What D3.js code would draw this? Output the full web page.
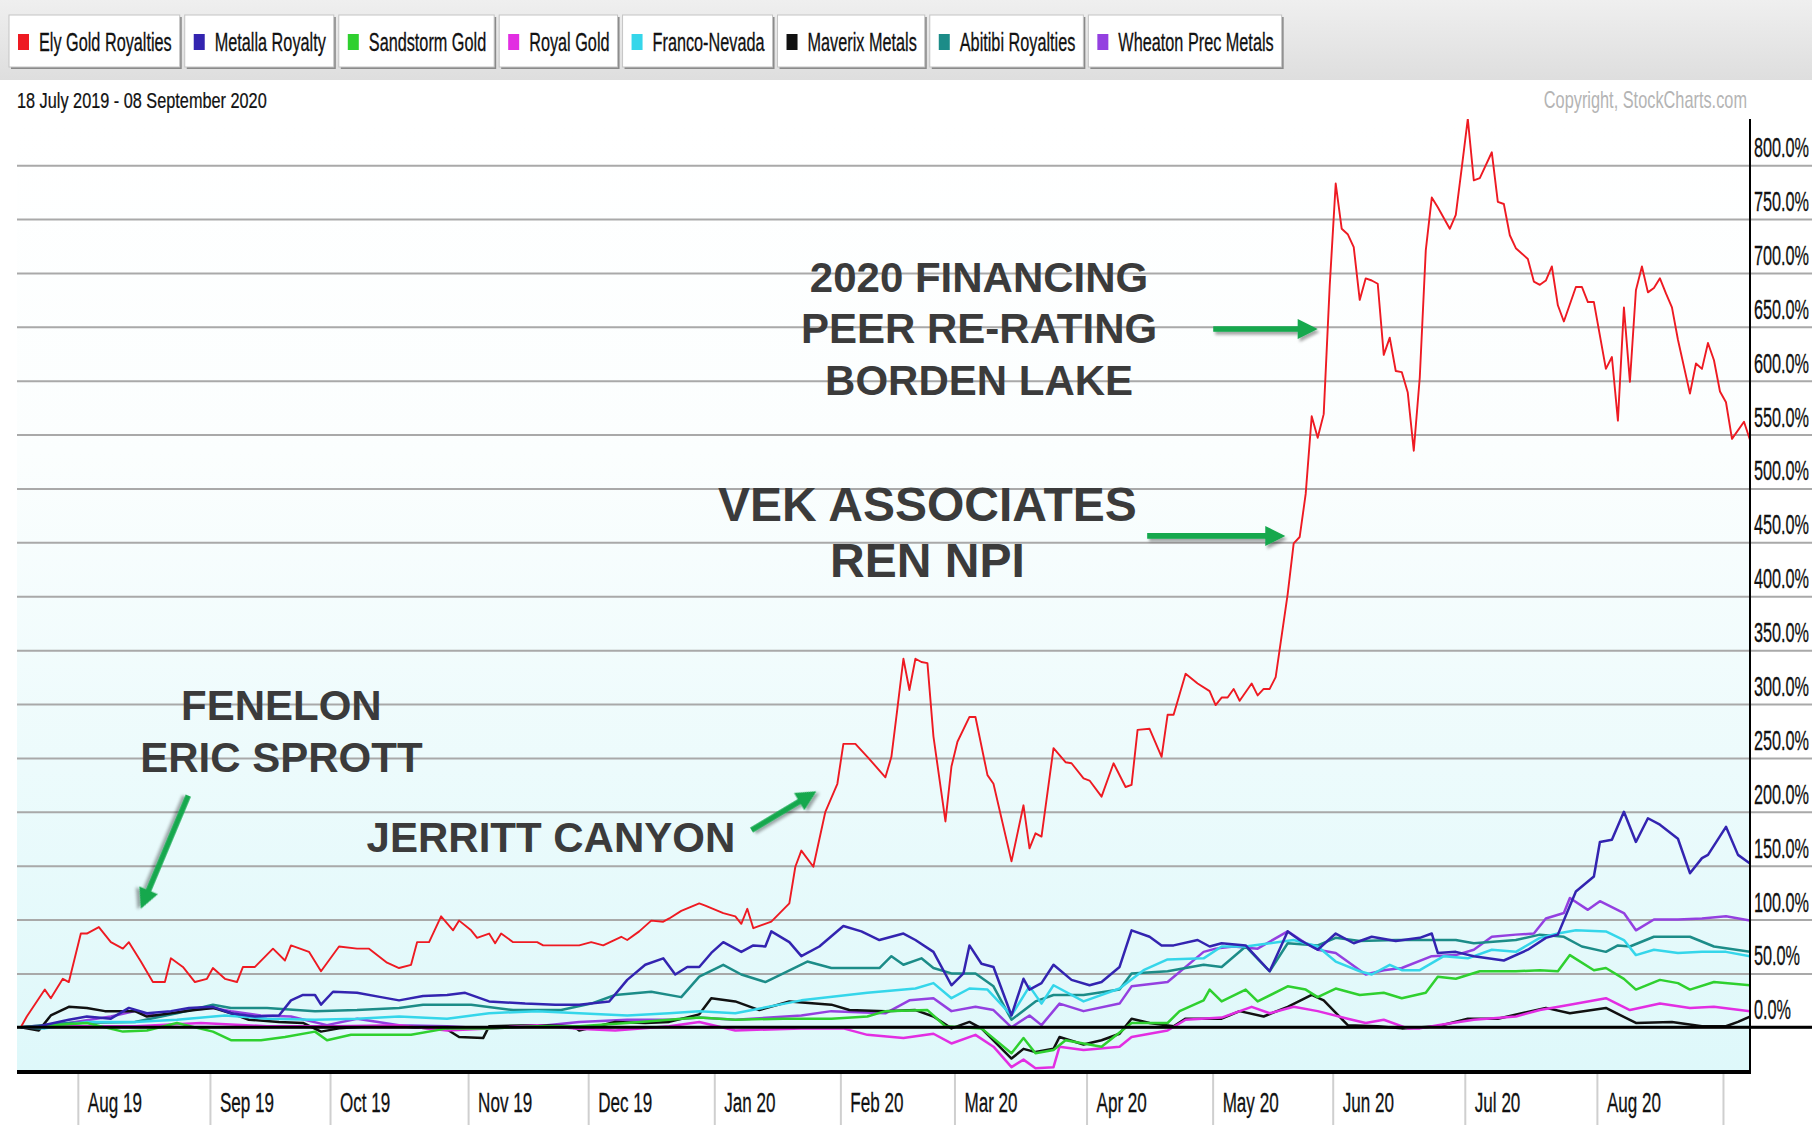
<!DOCTYPE html>
<html>
<head>
<meta charset="utf-8">
<script src="https://cdnjs.cloudflare.com/ajax/libs/d3/7.8.5/d3.min.js"></script>
<style>
    body { margin: 0; background: #fff; }
    svg { display: block; font-family: "Liberation Sans", Arial, sans-serif; }
</style>
</head>
<body>
<div id="chart"></div>
<script>
// trading calendar: one session per market day, 18 Jul 2019 .. 08 Sep 2020
var startDate = "2019-07-18",
    endDate = "2020-09-08";
var holidays = ["2019-09-02", "2019-11-28", "2019-12-25", "2020-01-01", "2020-01-20",
    "2020-02-17", "2020-04-10", "2020-05-25", "2020-07-03", "2020-09-07"];

var seriesNames = ["Ely Gold Royalties", "Metalla Royalty", "Sandstorm Gold", "Royal Gold",
    "Franco-Nevada", "Maverix Metals", "Abitibi Royalties", "Wheaton Prec Metals"];
var seriesColors = ["#ee1a22", "#3324b0", "#2fd02f", "#e22ee2", "#35d6ea", "#111111", "#1c8c88", "#9440e0"];

// [session, % change since 18 Jul 2019]
var elyGold = [[0,0],[1,10],[4,35],[5,27],[7,45],[8,42],[10,87],[11,87],[13,93],[15,79],[17,73],[18,79],[20,61],
    [22,42],[24,42],[25,64],[27,56],[29,42],[31,45],[32,55],[34,45],[36,42],[37,56],[39,56],[42,73],[44,62],[45,76],
    [48,70],[50,52],[53,75],[56,73],[58,73],[61,60],[63,55],[65,58],[66,79],[68,79],[70,103],[72,90],[73,99],[75,90],
    [76,83],[78,87],[79,78],[80,87],[82,79],[86,79],[87,76],[93,76],[95,79],[97,76],[100,84],[101,81],[103,89],[105,99],
    [107,98],[108,101],[110,108],[113,115],[114,113],[117,106],[119,103],[120,96],[121,110],[122,92],[125,98],[128,115],
    [129,149],[130,164],[132,149],[134,200],[136,226],[137,263],[139,263],[141,251],[144,232],[145,251],[146,296],
    [147,342],[148,313],[149,342],[150,339],[151,338],[152,270],[154,191],[155,242],[156,265],[158,288],[159,288],
    [161,234],[162,226],[165,154],[167,206],[168,166],[169,180],[170,177],[172,259],[174,246],[175,245],[177,231],
    [178,229],[180,214],[182,245],[184,223],[185,225],[186,276],[188,277],[190,251],[191,290],[192,290],[194,328],
    [196,319],[198,312],[199,299],[200,306],[201,306],[202,314],[203,303],[205,319],[206,308],[207,314],[208,314],
    [209,325],[211,402],[212,449],[213,455],[214,495],[215,567],[216,547],[217,569],[218,688],[219,783],[220,741],
    [221,736],[222,724],[223,675],[224,695],[225,693],[226,690],[227,624],[228,640],[229,609],[230,608],[231,589],
    [232,535],[233,603],[234,721],[235,770],[236,761],[238,741],[239,754],[240,798],[241,843],[242,786],[243,788],
    [245,812],[246,766],[247,764],[248,735],[249,723],[251,713],[252,692],[253,689],[254,693],[255,706],[256,670],
    [257,655],[259,687],[260,687],[261,673],[262,673],[264,611],[265,622],[266,563],[267,668],[268,599],[269,684],
    [270,706],[271,682],[272,686],[273,695],[274,681],[275,668],[276,638],[278,588],[279,616],[280,611],[281,635],
    [282,619],[283,590],[284,580],[285,546],[287,562],[288,545]];
var metalla = [[0,0],[3,1],[8,7],[11,10],[15,8],[18,18],[21,13],[25,15],[28,18],[32,19],[35,13],[39,10],[43,11],
    [45,25],[47,30],[49,30],[50,21],[52,33],[56,32],[60,28],[63,25],[67,29],[71,30],[74,32],[78,24],[84,22],[89,21],
    [93,21],[98,24],[101,44],[104,58],[107,64],[109,49],[111,56],[113,56],[115,69],[117,79],[120,70],[122,76],[124,75],
    [125,89],[128,79],[130,66],[133,75],[137,94],[140,89],[143,81],[147,87],[149,81],[152,70],[155,39],[157,50],
    [158,76],[160,59],[162,56],[165,11],[167,45],[168,35],[170,41],[172,58],[175,44],[178,39],[180,42],[183,56],
    [185,90],[188,84],[190,76],[192,76],[196,81],[198,75],[200,78],[204,76],[208,52],[211,89],[213,81],[216,72],
    [219,87],[222,78],[225,84],[229,80],[233,83],[235,87],[236,69],[239,70],[242,66],[247,62],[251,72],[254,83],
    [256,86],[259,126],[262,140],[263,172],[265,174],[267,200],[269,172],[271,194],[273,188],[276,175],[278,143],
    [280,157],[281,160],[284,186],[286,160],[288,152]];
var sandstorm = [[0,0],[11,4],[17,-4],[21,-3],[26,4],[32,-4],[35,-12],[40,-12],[44,-9],[49,-4],[51,-12],[55,-7],
    [65,-7],[71,-1],[78,-1],[86,1],[93,1],[101,4],[108,7],[113,9],[119,7],[127,8],[135,8],[141,10],[144,15],[151,16],
    [154,1],[160,-1],[165,-24],[167,-10],[169,-24],[172,-21],[174,-12],[180,-18],[185,4],[191,4],[193,15],[197,25],
    [198,35],[200,24],[204,35],[206,24],[211,38],[214,35],[216,28],[219,36],[223,30],[227,32],[230,27],[234,32],
    [236,47],[239,45],[243,52],[249,52],[253,53],[256,52],[258,67],[262,53],[264,55],[267,45],[269,35],[273,44],
    [276,41],[278,35],[282,42],[288,39]];
var royalGold = [[0,0],[8,1],[19,1],[30,4],[41,1],[52,1],[63,2],[71,-3],[78,-1],[86,2],[92,-1],[99,-3],[108,1],
    [113,5],[119,-3],[130,-1],[137,-1],[141,-7],[147,-10],[152,-6],[155,-15],[159,-7],[162,-18],[165,-37],[167,-30],
    [169,-38],[172,-37],[173,-18],[177,-21],[183,-18],[185,-9],[191,-3],[194,7],[200,9],[205,19],[208,13],[212,19],
    [216,15],[221,8],[224,4],[227,7],[231,-1],[233,-1],[236,2],[242,7],[249,10],[253,16],[258,21],[264,27],[268,16],
    [273,22],[278,18],[282,19],[288,15]];
var francoNevada = [[0,0],[4,-1],[11,5],[19,5],[26,7],[34,11],[41,8],[49,7],[56,8],[63,10],[71,8],[78,13],[86,15],
    [93,13],[101,11],[108,13],[113,15],[119,13],[130,25],[141,32],[149,36],[152,41],[155,27],[158,36],[161,35],
    [165,11],[168,38],[170,22],[172,39],[177,24],[183,36],[187,53],[191,63],[197,64],[200,75],[204,75],[208,78],
    [212,81],[216,75],[219,61],[223,52],[225,49],[228,58],[230,53],[233,53],[237,66],[241,64],[245,72],[249,70],
    [253,83],[256,87],[259,90],[264,89],[267,81],[269,67],[272,72],[276,69],[280,70],[284,70],[288,66]];
var maverix = [[0,0],[3,-3],[5,11],[8,19],[11,18],[14,15],[19,15],[21,10],[25,13],[29,16],[32,18],[35,13],[38,7],
    [43,5],[47,4],[50,-4],[53,-1],[58,1],[63,1],[71,-2],[73,-9],[77,-10],[78,1],[86,2],[92,1],[93,-3],[99,5],[104,4],
    [108,5],[113,12],[115,27],[119,24],[123,16],[128,24],[135,21],[138,16],[144,15],[149,16],[152,10],[155,-1],
    [158,5],[160,-1],[165,-29],[167,-20],[169,-23],[172,-20],[173,-9],[177,-16],[180,-12],[183,-6],[185,8],[188,4],
    [192,1],[194,8],[197,8],[200,8],[203,15],[207,10],[211,19],[215,30],[217,25],[221,2],[226,1],[230,-1],[236,1],
    [241,8],[246,8],[250,13],[254,18],[258,13],[264,18],[269,4],[275,5],[280,1],[284,1],[286,5],[288,10]];
var abitibi = [[0,0],[8,4],[19,5],[26,13],[32,21],[35,18],[41,18],[49,15],[56,16],[63,18],[67,21],[75,21],[82,16],
    [90,16],[95,22],[99,30],[105,33],[110,28],[113,47],[117,58],[120,49],[124,42],[127,50],[131,61],[135,55],[143,55],
    [145,66],[147,58],[150,64],[152,55],[155,50],[159,50],[162,38],[165,7],[169,24],[172,30],[177,30],[183,35],
    [185,50],[191,52],[197,58],[200,56],[204,75],[208,52],[211,78],[216,76],[219,83],[223,80],[229,81],[235,81],
    [239,81],[242,78],[249,81],[253,86],[257,84],[260,75],[264,70],[266,76],[268,75],[272,84],[278,84],[282,75],
    [288,70]];
var wheaton = [[0,0],[8,4],[15,10],[19,15],[23,10],[28,16],[32,18],[35,15],[40,11],[45,10],[51,2],[56,8],[63,2],
    [71,1],[78,-1],[86,1],[93,5],[101,7],[108,7],[113,9],[119,7],[130,11],[135,15],[144,13],[148,25],[152,27],
    [155,15],[159,19],[162,16],[165,0],[168,11],[170,2],[173,22],[177,15],[183,22],[185,38],[191,42],[197,70],
    [199,73],[202,75],[206,73],[211,89],[214,78],[216,72],[219,69],[224,49],[227,53],[230,55],[235,66],[239,67],
    [242,72],[245,84],[249,86],[252,87],[254,101],[257,106],[258,120],[261,109],[263,117],[267,106],[269,90],
    [272,100],[276,100],[280,101],[284,103],[288,99]];

var yTicks = [0, 50, 100, 150, 200, 250, 300, 350, 400, 450, 500, 550, 600, 650, 700, 750, 800];

// hand-drawn notes, placed in [session, %] space
var noteTexts = [
    {text: "2020 FINANCING", s: 159.6, v: 696, size: 42},
    {text: "PEER RE-RATING", s: 159.6, v: 648.6, size: 42},
    {text: "BORDEN LAKE", s: 159.6, v: 601, size: 42},
    {text: "VEK ASSOCIATES", s: 151, v: 486, size: 48},
    {text: "REN NPI", s: 151, v: 434, size: 48},
    {text: "FENELON", s: 43.4, v: 299, size: 42},
    {text: "ERIC SPROTT", s: 43.4, v: 251, size: 42},
    {text: "JERRITT CANYON", s: 88.3, v: 177, size: 42}
];
var noteArrows = [
    [[198.6, 648], [216, 648]],
    [[187.6, 456], [210.6, 456]],
    [[27.9, 215], [20, 110]],
    [[121.7, 183], [132.5, 219]]
];

var W = 1812, H = 1125;
var plot = {left: 17, right: 1750, top: 119, bottom: 1072};

var parseDate = d3.timeParse("%Y-%m-%d"),
    fmtDate = d3.timeFormat("%Y-%m-%d"),
    fmtMonth = d3.timeFormat("%b %y");

var sessions = [];
for (var d = parseDate(startDate); d <= parseDate(endDate); d = d3.timeDay.offset(d, 1)) {
    var wd = d.getDay();
    if (wd === 0 || wd === 6) continue;
    if (holidays.indexOf(fmtDate(d)) >= 0) continue;
    sessions.push(d);
}

// first session of every month
var monthStarts = [];
sessions.forEach(function(d, i) {
    if (i > 0 && d.getMonth() !== sessions[i - 1].getMonth()) monthStarts.push(i);
});

var x = d3.scaleLinear()
    .domain([0, sessions.length - 1])
    .range([20.8, plot.right]);

var y = d3.scaleLinear()
    .domain([0, 800])
    .range([1027.3, 165.2]);

var svg = d3.select("#chart").append("svg")
    .attr("width", W)
    .attr("height", H);

var defs = svg.append("defs");

var grad = defs.append("linearGradient")
    .attr("id", "bg")
    .attr("x1", 0).attr("y1", 0).attr("x2", 0).attr("y2", 1);
grad.append("stop").attr("offset", "0%").attr("stop-color", "#ffffff");
grad.append("stop").attr("offset", "35%").attr("stop-color", "#fbfefe");
grad.append("stop").attr("offset", "100%").attr("stop-color", "#def8fa");

var legGrad = defs.append("linearGradient")
    .attr("id", "legbg")
    .attr("x1", 0).attr("y1", 0).attr("x2", 0).attr("y2", 1);
legGrad.append("stop").attr("offset", "0%").attr("stop-color", "#efefef");
legGrad.append("stop").attr("offset", "100%").attr("stop-color", "#dedede");

defs.append("clipPath").attr("id", "clip")
    .append("rect")
    .attr("x", plot.left).attr("y", plot.top)
    .attr("width", plot.right - plot.left).attr("height", plot.bottom - plot.top);

var shadow = defs.append("filter").attr("id", "shadow")
    .attr("x", "-20%").attr("y", "-50%").attr("width", "140%").attr("height", "200%");
shadow.append("feDropShadow")
    .attr("dx", 2).attr("dy", 3).attr("stdDeviation", 1.5)
    .attr("flood-color", "#000").attr("flood-opacity", 0.35);

// narrow text, the original chart's labels look squeezed sideways
function narrowText(g, tx, ty, str, size, sx, anchor) {
    return g.append("text")
        .attr("transform", "translate(" + tx + "," + ty + ") scale(" + sx + ",1)")
        .attr("font-size", size)
        .attr("text-anchor", anchor || "start")
        .text(str);
}

// legend strip
svg.append("rect")
    .attr("x", 0).attr("y", 0)
    .attr("width", W).attr("height", 80)
    .attr("fill", "url(#legbg)");

var legend = svg.append("g").attr("class", "legend");
var bx = 9;
seriesNames.forEach(function(name, i) {
    var b = legend.append("g");
    var t = narrowText(b, bx + 30, 51, name, 25, 0.65)
        .attr("fill", "#111")
        .attr("stroke", "#111")
        .attr("stroke-width", 0.3);
    var tw = t.node().getComputedTextLength() * 0.65;
    var bw = tw + 38;
    b.insert("rect", "text")
        .attr("x", bx + 2).attr("y", 17)
        .attr("width", bw).attr("height", 52)
        .attr("fill", "#8a8a8a");
    b.insert("rect", "text")
        .attr("x", bx).attr("y", 15)
        .attr("width", bw).attr("height", 52)
        .attr("fill", "#fff")
        .attr("stroke", "#c4c4c4");
    b.append("rect")
        .attr("x", bx + 9).attr("y", 34)
        .attr("width", 11).attr("height", 16)
        .attr("fill", seriesColors[i]);
    bx += bw + 5;
});

narrowText(svg, 17, 108, "18 July 2019 - 08 September 2020", 22, 0.74)
    .attr("fill", "#111")
    .attr("stroke", "#111")
    .attr("stroke-width", 0.25);
narrowText(svg, plot.right - 3, 108, "Copyright, StockCharts.com", 23, 0.71, "end")
    .attr("fill", "#b4b4b4");

// plot background
svg.append("rect")
    .attr("x", plot.left).attr("y", plot.top)
    .attr("width", plot.right - plot.left).attr("height", plot.bottom - plot.top)
    .attr("fill", "url(#bg)");

// horizontal grid, runs under the labels to the right edge
svg.append("g")
    .attr("class", "grid")
    .attr("transform", "translate(" + W + ",0)")
    .call(d3.axisLeft(y).tickValues(yTicks).tickSize(W - plot.left).tickFormat(""))
    .call(function(g) {
        g.select(".domain").remove();
        g.selectAll(".tick line").attr("stroke", "#a9a9a9").attr("stroke-width", 2);
    });

var yLab = svg.append("g").attr("class", "y-labels");
yTicks.forEach(function(v) {
    narrowText(yLab, plot.right + 4, y(v) - 8, d3.format(".1f")(v) + "%", 28, 0.58)
        .attr("fill", "#111")
        .attr("stroke", "#111")
        .attr("stroke-width", 0.3);
});

// month separators below the plot
svg.append("g")
    .attr("class", "x-axis")
    .attr("transform", "translate(0," + plot.bottom + ")")
    .call(d3.axisBottom(x).tickValues(monthStarts.map(function(i) { return i - 0.5; }))
        .tickSize(H - plot.bottom).tickFormat(""))
    .call(function(g) {
        g.select(".domain").remove();
        g.selectAll(".tick line").attr("stroke", "#cfcfcf").attr("stroke-width", 2);
    });

var xLab = svg.append("g").attr("class", "x-labels");
monthStarts.forEach(function(i) {
    var px = x(i - 0.5) + 10;
    if (px + 60 > plot.right) return;
    narrowText(xLab, px, 1112, fmtMonth(sessions[i]), 28, 0.61)
        .attr("fill", "#111")
        .attr("stroke", "#111")
        .attr("stroke-width", 0.3);
});

// series, Ely Gold drawn last so it sits on top
var line = d3.line()
    .x(function(d) { return x(d[0]); })
    .y(function(d) { return y(d[1]); });

var allSeries = [elyGold, metalla, sandstorm, royalGold, francoNevada, maverix, abitibi, wheaton];
var lines = svg.append("g").attr("clip-path", "url(#clip)");
for (var k = allSeries.length - 1; k >= 0; k--) {
    lines.append("path")
        .datum(allSeries[k])
        .attr("fill", "none")
        .attr("stroke", seriesColors[k])
        .attr("stroke-width", k === 0 ? 1.9 : 2.5)
        .attr("stroke-linejoin", "round")
        .attr("d", line);
}

// zero line, frame
svg.append("line")
    .attr("x1", plot.left).attr("x2", W)
    .attr("y1", y(0)).attr("y2", y(0))
    .attr("stroke", "#000").attr("stroke-width", 3);
svg.append("line")
    .attr("x1", plot.left).attr("x2", plot.right + 1)
    .attr("y1", plot.bottom).attr("y2", plot.bottom)
    .attr("stroke", "#000").attr("stroke-width", 4);
svg.append("line")
    .attr("x1", plot.right).attr("x2", plot.right)
    .attr("y1", plot.top).attr("y2", plot.bottom)
    .attr("stroke", "#000").attr("stroke-width", 2);

// notes
var notes = svg.append("g").attr("class", "notes");
noteTexts.forEach(function(n) {
    notes.append("text")
        .attr("x", x(n.s))
        .attr("y", y(n.v))
        .attr("dy", "0.36em")
        .attr("text-anchor", "middle")
        .attr("font-size", n.size)
        .attr("font-weight", "bold")
        .attr("fill", "#3b3b3b")
        .text(n.text);
});

noteArrows.forEach(function(a) {
    var x1 = x(a[0][0]), y1 = y(a[0][1]),
        x2 = x(a[1][0]), y2 = y(a[1][1]);
    var len = Math.sqrt((x2 - x1) * (x2 - x1) + (y2 - y1) * (y2 - y1)),
        ang = Math.atan2(y2 - y1, x2 - x1) * 180 / Math.PI;
    var head = 20;
    notes.append("path")
        .attr("transform", "translate(" + x1 + "," + y1 + ") rotate(" + ang + ")")
        .attr("d", "M0,-2.8L" + (len - head) + ",-2.8L" + (len - head) + ",-10L" + len + ",0L" +
            (len - head) + ",10L" + (len - head) + ",2.8L0,2.8Z")
        .attr("fill", "#13a84e")
        .attr("filter", "url(#shadow)");
});
</script>
</body>
</html>
